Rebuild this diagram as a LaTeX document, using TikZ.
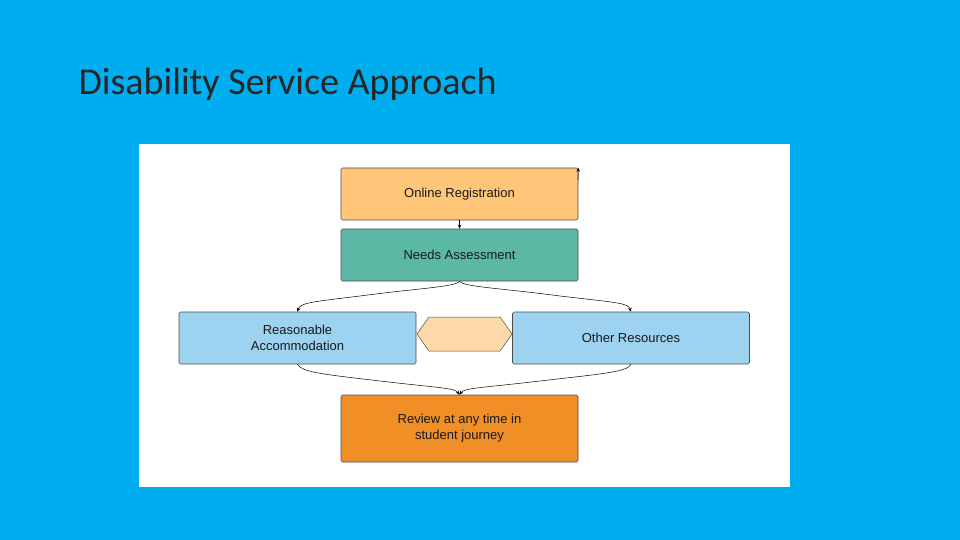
\documentclass[tikz,border=0pt]{standalone}
\usepackage{fontspec}
\setmainfont{Carlito}
\newfontfamily\boxfont{Liberation Sans}
\usetikzlibrary{shapes.arrows,arrows.meta}
\definecolor{bg}{HTML}{00ADEF}
\definecolor{cOnline}{HTML}{FFC578}
\definecolor{cNeeds}{HTML}{5BB8A5}
\definecolor{cBlue}{HTML}{9DD2F0}
\definecolor{cReview}{HTML}{EF8F25}
\definecolor{cPeach}{HTML}{FDD9A8}
\begin{document}
\begin{tikzpicture}[x=1pt,y=-1pt,
  box/.style={draw=black!70,line width=0.6pt,rounded corners=1.5pt,minimum width=237pt,minimum height=52pt,inner sep=0pt,align=center,font=\boxfont\fontsize{13}{16}\selectfont,text=black!90},
  con/.style={line width=0.5pt,-{Stealth[length=4pt,width=3.5pt]}}]
\useasboundingbox (0,0) rectangle (960,540);
\fill[bg] (0,0) rectangle (960,540);
\fill[white] (139,144) rectangle (790,487);
\node[anchor=base west,font=\fontsize{38}{40}\selectfont,text=black!85] (title) at (75,95) {Disability Service Approach};
\node[box,fill=cOnline] (online) at (459.5,194) {Online Registration};
\node[box,fill=cNeeds] (needs) at (459.5,255) {Needs Assessment};
\node[box,fill=cBlue] (reas) at (297.5,338) {Reasonable\\Accommodation};
\node[box,fill=cBlue] (other) at (631,338) {Other Resources};
\node[box,fill=cReview,minimum height=67pt] (review) at (459.5,428.5) {Review at any time in\\student journey};
\node[double arrow,draw=black!70,fill=cPeach,line width=0.5pt,minimum width=34pt,minimum height=95pt,double arrow head extend=0pt,double arrow tip angle=110,inner sep=0pt] (dbl) at (464.5,334) {};
\draw[con] (online.south) -- (needs.north);
\coordinate (upstart) at (578,180);
\draw[con] (upstart) -- (online.north east);
\draw[con] (needs.south) .. controls (455,287) and (420,288) .. (360,296) .. controls (310,302) and (300,303) .. (reas.north);
\draw[con] (needs.south) .. controls (464,287) and (500,288) .. (560,296) .. controls (620,303) and (628,303) .. (other.north);
\draw[con] (reas.south) .. controls (302,372) and (320,374) .. (380,381) .. controls (440,388) and (455,388) .. (review.north);
\draw[con] (other.south) .. controls (628,372) and (600,374) .. (540,381) .. controls (480,388) and (464,388) .. (review.north);
\end{tikzpicture}
\end{document}
